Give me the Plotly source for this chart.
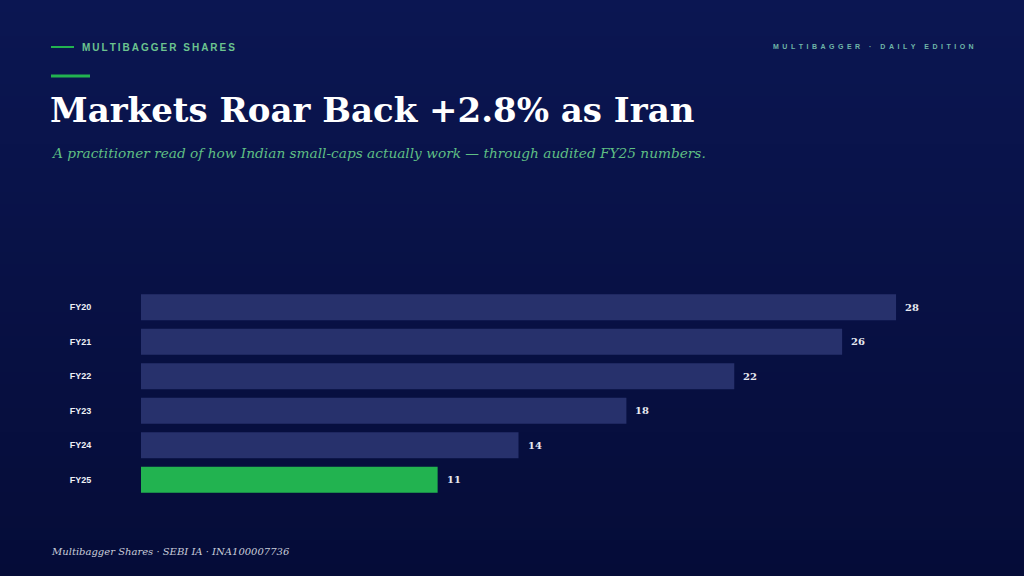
import plotly.graph_objects as go

# chart data
years = ["FY20", "FY21", "FY22", "FY23", "FY24", "FY25"]
values = [28, 26, 22, 18, 14, 11]
highlight = "FY25"

NAVY_BAR = "#27316c"
GREEN = "#22b350"
SERIF = "DejaVu Serif"
SANS = "Liberation Sans"

W, H = 1024, 576
ml, mr, mt, mb = 141, 74, 290, 79


def spaced(text, sep="\u2009"):
    # fake letter-spacing with thin spaces
    return sep.join(text)


def px(x, y):
    # page pixel -> paper coordinates
    return (x - ml) / (W - ml - mr), 1 - (y - mt) / (H - mt - mb)


def gradient_shapes(top=(11, 22, 82), bottom=(5, 12, 56), steps=48):
    shapes = []
    for i in range(steps):
        t = i / (steps - 1)
        r, g, b = (round(top[k] + (bottom[k] - top[k]) * t) for k in range(3))
        _, y1 = px(0, H * i / steps)
        _, y0 = px(0, H * (i + 1) / steps + 1)
        shapes.append(dict(
            type="rect", xref="paper", yref="paper", layer="below",
            x0=-1, x1=2, y0=y0, y1=y1,
            fillcolor=f"rgb({r},{g},{b})", line=dict(width=0),
        ))
    return shapes


colors = [GREEN if y == highlight else NAVY_BAR for y in years]

fig = go.Figure(go.Bar(
    x=values, y=years, orientation="h",
    marker=dict(color=colors, line=dict(width=0)),
    hoverinfo="skip",
))

# value labels next to each bar
annotations = []
for y, v in zip(years, values):
    annotations.append(dict(
        x=v, y=y, xref="x", yref="y", text=f"<b>{v}</b>", showarrow=False,
        xanchor="left", xshift=7, font=dict(family=SERIF, size=10, color="#e6e8f0"),
    ))


def note(text, x, y, font, xanchor="left"):
    xx, yy = px(x, y)
    annotations.append(dict(
        x=xx, y=yy, xref="paper", yref="paper", text=text, showarrow=False,
        xanchor=xanchor, yanchor="middle", font=font,
    ))


note("<b>" + spaced("MULTIBAGGER SHARES") + "</b>", 80, 47,
     dict(family=SANS, size=10, color="#6cc48f"))
note("<b>" + spaced("MULTIBAGGER · DAILY EDITION", "\u2002") + "</b>", 976, 46,
     dict(family=SANS, size=7, color="#6fb5a8"), xanchor="right")
note("<b>Markets Roar Back +2.8% as Iran</b>", 48, 110,
     dict(family=SERIF, size=34, color="#ffffff"))
note("<i>A practitioner read of how Indian small-caps actually work — through audited FY25 numbers.</i>",
     49, 153, dict(family=SERIF, size=13.7, color="#5fbf84"))
note("<i>Multibagger Shares · SEBI IA · INA100007736</i>", 49, 551,
     dict(family=SERIF, size=10, color="#c9ccd9"))

shapes = gradient_shapes()
for x0, x1, y, w in [(51, 74, 47, 2), (51, 90, 76, 3)]:
    a0, b0 = px(x0, y)
    a1, _ = px(x1, y)
    shapes.append(dict(type="line", xref="paper", yref="paper", x0=a0, x1=a1,
                       y0=b0, y1=b0, line=dict(color=GREEN, width=w)))

fig.update_layout(
    width=W, height=H,
    margin=dict(l=ml, r=mr, t=mt, b=mb),
    paper_bgcolor="#08113f", plot_bgcolor="rgba(0,0,0,0)",
    showlegend=False, bargap=0.25,
    xaxis=dict(range=[0, 30], visible=False, fixedrange=True),
    yaxis=dict(autorange="reversed", showgrid=False, zeroline=False, showline=False,
               ticks="outside", ticklen=47, tickcolor="rgba(0,0,0,0)",
               tickfont=dict(family=SANS, size=9, color="#eef0f6"),
               tickprefix="<b>", ticksuffix="</b>", fixedrange=True),
    shapes=shapes, annotations=annotations,
)

fig.write_html("out.html", config=dict(displayModeBar=False),
               post_script="document.body.style.margin='0';")
